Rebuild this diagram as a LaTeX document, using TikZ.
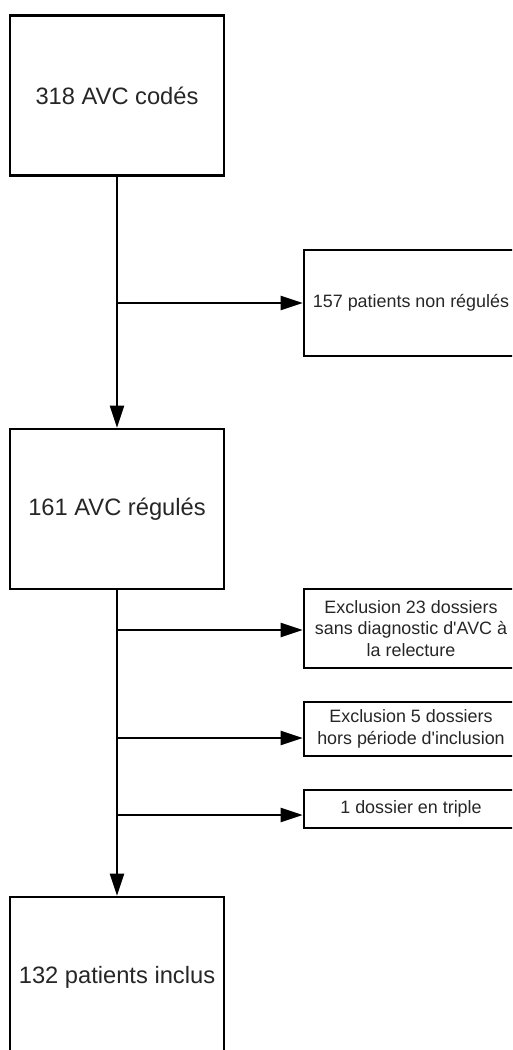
\documentclass[tikz,border=0pt]{standalone}
\usepackage{fontspec}
\setmainfont{Liberation Sans}
\newfontfamily\lsans{Liberation Sans}
\usetikzlibrary{arrows.meta,calc}
\begin{document}
\begin{tikzpicture}[x=1pt,y=-1pt,
  bigbox/.style={draw=black,line width=2.6pt,minimum width=214pt,minimum height=160pt,inner sep=0pt,text=black!85,font=\lsans\fontsize{23.7}{28}\selectfont},
  sidebox/.style={draw=black,line width=2.6pt,minimum width=214pt,inner sep=0pt,text=black!85,align=center,font=\lsans\fontsize{17.9}{21.4}\selectfont},
  flow/.style={line width=2.3pt,-{Triangle[length=22pt,width=14pt]}}]
\useasboundingbox (0,0) rectangle (512,1050);
\clip (0,0) rectangle (512,1050);
\node[bigbox] (a) at (117,95.5) {318 AVC codés};
\node[bigbox] (b) at (117,509) {161 AVC régulés};
\node[bigbox] (c) at (117,977) {132 patients inclus};
\node[sidebox,minimum height=106pt] (s1) at (411,303) {157 patients non régulés};
\node[sidebox,minimum height=79pt] (s2) at (411,628.5) {Exclusion 23 dossiers\\sans diagnostic d'AVC à\\la relecture};
\node[sidebox,minimum height=54pt] (s3) at (411,729) {Exclusion 5 dossiers\\hors période d'inclusion};
\node[sidebox,minimum height=38pt] (s4) at (411,809) {1 dossier en triple};
\coordinate (t1) at (117,303);
\coordinate (t2) at (117,630);
\coordinate (t3) at (117,738);
\coordinate (t4) at (117,815);
\draw[flow] (a.south) -- (b.north);
\draw[flow] (b.south) -- (c.north);
\draw[flow] (t1) -- (t1 -| s1.west);
\draw[flow] (t2) -- (t2 -| s2.west);
\draw[flow] (t3) -- (t3 -| s3.west);
\draw[flow] (t4) -- (t4 -| s4.west);
\end{tikzpicture}
\end{document}
